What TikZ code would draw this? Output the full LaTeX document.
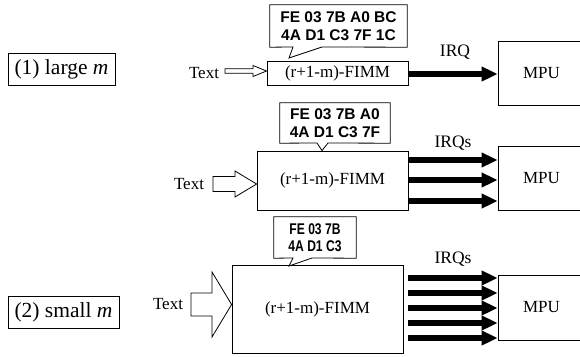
\documentclass[tikz,border=0pt]{standalone}
\usepackage{fontspec}
\setmainfont{Liberation Serif}
\newfontfamily\calloutfont{Liberation Sans}
\newfontfamily\calloutnarrow[FakeStretch=0.78]{Liberation Sans}
\usetikzlibrary{arrows.meta}
\begin{document}
\begin{tikzpicture}[x=1pt,y=-1pt,
  box/.style={draw, line width=0.8pt, inner sep=0pt, font=\fontsize{17}{19}\selectfont},
  lbl/.style={draw, line width=0.8pt, inner sep=0pt, font=\fontsize{21.5}{24}\selectfont},
  ctext/.style={inner sep=0pt, align=center, font=\calloutfont\bfseries\fontsize{15.5}{17.5}\selectfont},
  ctextn/.style={inner sep=0pt, align=center, font=\calloutnarrow\bfseries\fontsize{15.5}{17.5}\selectfont},
  cline/.style={draw, line width=0.8pt, line join=miter},
  txt/.style={inner sep=0pt, font=\fontsize{17}{19}\selectfont},
  qtxt/.style={inner sep=0pt, font=\fontsize{17.5}{20}\selectfont},
  hollow/.style={draw, line width=0.8pt, fill=white, line join=miter},
  irq/.style={line width=6.5pt, -{Triangle[length=16pt,width=14pt]}},
  ]
\useasboundingbox (0,0) rectangle (580,356);

% labels
\node[lbl, minimum width=107pt, minimum height=32pt] (L1) at (61.5,69) {(1) large \textit{m}};
\node[lbl, minimum width=111pt, minimum height=32pt] (L2) at (63.5,312) {(2) small \textit{m}};

% FIMM boxes
\node[box, minimum width=141pt, minimum height=24pt] (F1) at (337.5,73) {(r+1-m)-FIMM};
\node[box, minimum width=151pt, minimum height=59pt] (F2) at (332.5,180.5) {(r+1-m)-FIMM};
\node[box, minimum width=171pt, minimum height=88pt] (F3) at (317.5,309) {(r+1-m)-FIMM};

% MPU boxes
\node[box, minimum width=87pt, minimum height=64pt] (M1) at (541.5,73) {MPU};
\node[box, minimum width=87pt, minimum height=64pt] (M2) at (541.5,178) {MPU};
\node[box, minimum width=87pt, minimum height=65pt] (M3) at (541.5,307.5) {MPU};

% Text labels
\node[txt] (T1) at (204,73) {Text};
\node[txt] (T2) at (189,184) {Text};
\node[txt] (T3) at (168,304) {Text};

% hollow arrows
\draw[hollow] (225,68.8) -- (253,68.8) -- (253,65.5) -- (F1.west |- 0,71) -- (253,76.5) -- (253,73.2) -- (225,73.2) -- cycle;
\draw[hollow] (213,176.5) -- (235,176.5) -- (235,171) -- (F2.west |- 0,184) -- (235,197) -- (235,191.5) -- (213,191.5) -- cycle;
\draw[hollow] (191,293) -- (212,293) -- (212,272) -- (F3.west |- 0,304.5) -- (212,337) -- (212,316) -- (191,316) -- cycle;

% callouts
\node[ctext, minimum width=137pt, minimum height=42pt] (C1) at (338.5,26) {FE 03 7B A0 BC\\4A D1 C3 7F 1C};
\draw[cline] (C1.north west) -- (C1.north east) -- (C1.south east) -- (322,47) -- (289,58) -- (293,47) -- (C1.south west) -- cycle;
\node[ctext, minimum width=110pt, minimum height=40pt] (C2) at (335,123) {FE 03 7B A0\\4A D1 C3 7F};
\draw[cline] (C2.north west) -- (C2.north east) -- (C2.south east) -- (328,143) -- (F2.north -| 322,0) -- (317,143) -- (C2.south west) -- cycle;
\node[ctextn, minimum width=82pt, minimum height=41pt] (C3) at (315,237.5) {FE 03 7B\\4A D1 C3};
\draw[cline] (C3.north west) -- (C3.north east) -- (C3.south east) -- (312,258) -- (289,266) -- (293,258) -- (C3.south west) -- cycle;

% IRQ arrows
\node[qtxt] (Q1) at (455,52) {IRQ};
\draw[irq] (F1.east |- 0,74) -- (M1.west |- 0,74);

\node[qtxt] (Q2) at (453,143) {IRQs};
\foreach \yy in {160,180,201}
  \draw[irq] (F2.east |- 0,\yy) -- (M2.west |- 0,\yy);

\node[qtxt] (Q3) at (453,259) {IRQs};
\foreach \yy in {278,293,308,323,338}
  \draw[irq] ([xshift=5pt]F3.east |- 0,\yy) -- (M3.west |- 0,\yy);
\end{tikzpicture}
\end{document}
